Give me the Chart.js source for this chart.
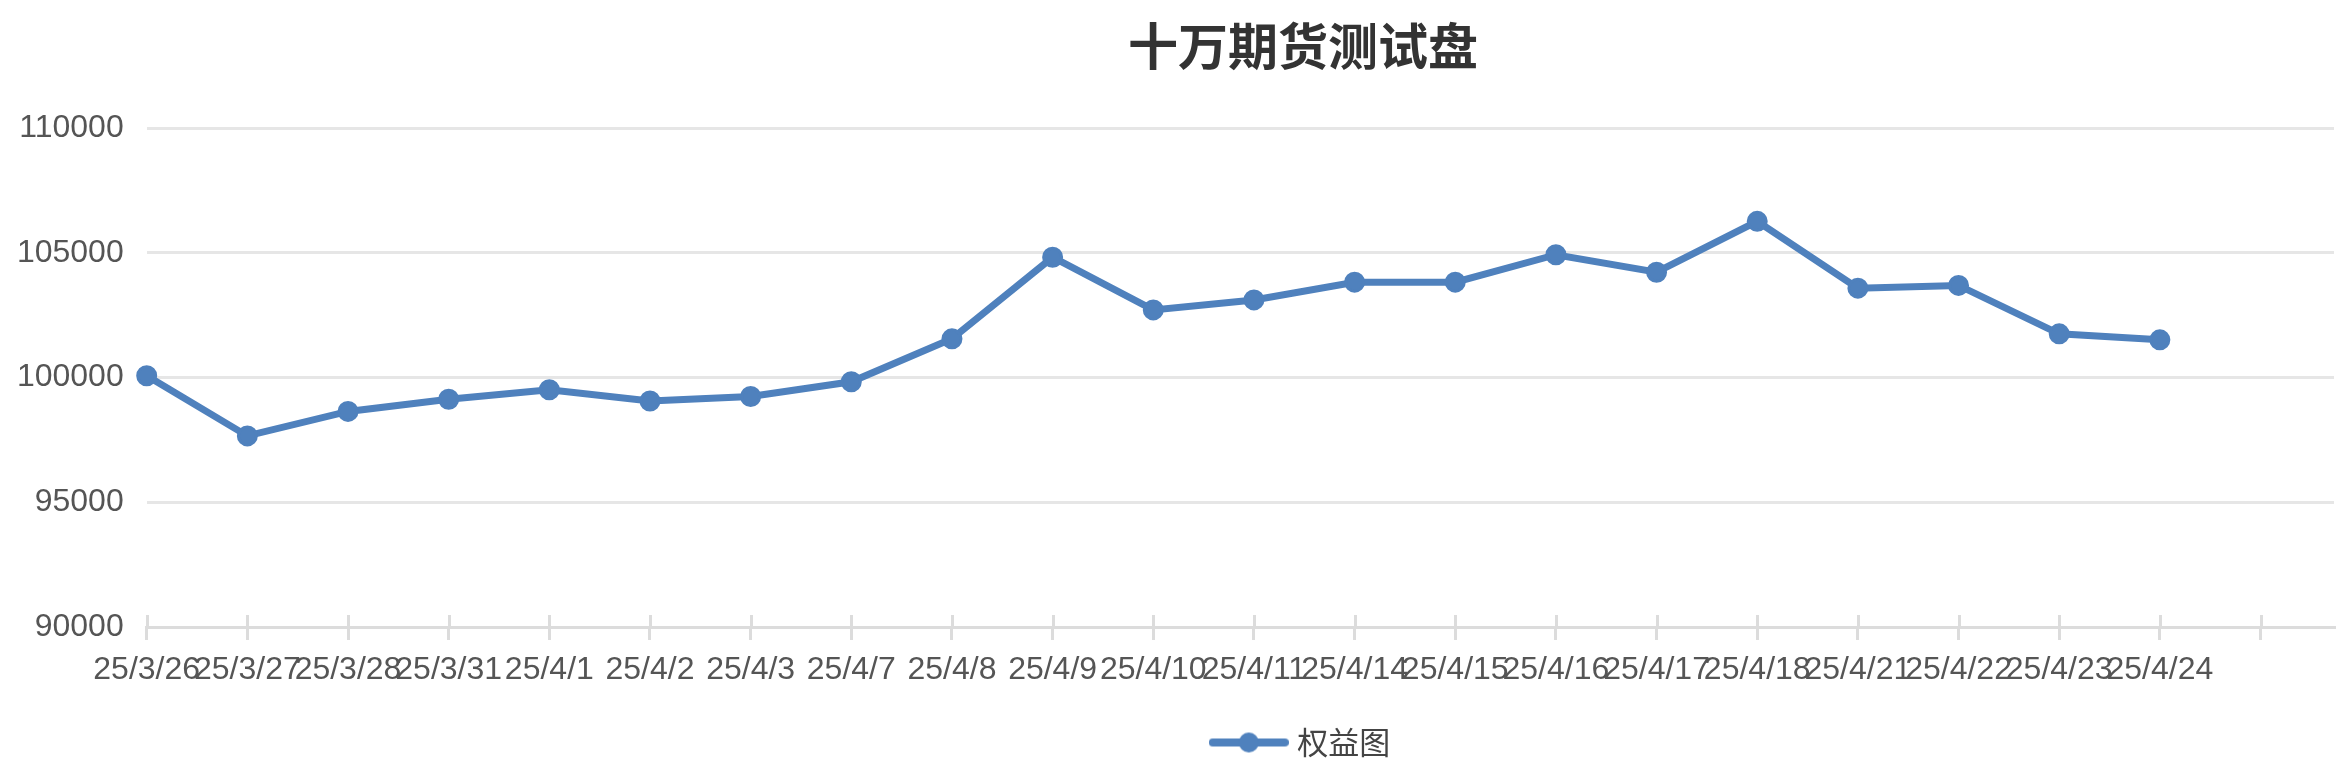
<!DOCTYPE html>
<html><head><meta charset="utf-8">
<script src="https://cdn.jsdelivr.net/npm/chart.js@4.4.1/dist/chart.umd.min.js"></script>
<style>html,body{margin:0;padding:0;background:#fff}#wrap{width:2346px;height:782px;position:relative}</style>
</head><body><div id="wrap"><canvas id="c"></canvas></div>
<script>
const chartTitle = '十万期货测试盘';
const seriesName = '权益图';
const dateLabels = ['25/3/26','25/3/27','25/3/28','25/3/31','25/4/1','25/4/2','25/4/3','25/4/7','25/4/8','25/4/9','25/4/10','25/4/11','25/4/14','25/4/15','25/4/16','25/4/17','25/4/18','25/4/21','25/4/22','25/4/23','25/4/24'];
const equity = [100070, 97660, 98640, 99130, 99510, 99060, 99240, 99830, 101550, 104820, 102710, 103110, 103820, 103820, 104920, 104220, 106260, 103580, 103690, 101750, 101510];
const yTicks = [90000, 95000, 100000, 105000, 110000];

const lineColor = '#4F81BD';

// legend icon: line with a circle
const icon = document.createElement('canvas');
icon.width = 80; icon.height = 24;
(function(){
  const g = icon.getContext('2d');
  g.strokeStyle = lineColor; g.lineWidth = 8; g.lineCap = 'round';
  g.beginPath(); g.moveTo(4, 12); g.lineTo(76, 12); g.stroke();
  g.fillStyle = lineColor; g.beginPath(); g.arc(40, 12, 10, 0, Math.PI*2); g.fill();
})();

const shiftCenter = {
  id: 'shiftCenter',
  afterLayout(chart) {
    const d = 130;
    if (chart.titleBlock) { chart.titleBlock.left += d; chart.titleBlock.right += d; }
    if (chart.legend) { chart.legend.left += d; chart.legend.right += d; }
  }
};
const tickCross = {
  id: 'tickCross',
  beforeDatasetsDraw(chart) {
    const s = chart.scales.x, a = chart.chartArea, ctx = chart.ctx;
    ctx.save();
    ctx.strokeStyle = '#dcdcdc'; ctx.lineWidth = 3;
    s.ticks.forEach(t => {
      const px = Math.round(s.getPixelForValue(t.value)) + 0.5;
      ctx.beginPath(); ctx.moveTo(px, a.bottom - 12); ctx.lineTo(px, a.bottom); ctx.stroke();
    });
    ctx.restore();
  }
};

new Chart(document.getElementById('c'), {
  type: 'line',
  data: {
    datasets: [{
      label: seriesName,
      data: equity.map((v, i) => ({x: i, y: v})),
      borderColor: lineColor,
      backgroundColor: lineColor,
      borderWidth: 7,
      pointRadius: 9,
      pointBorderWidth: 3,
      pointBackgroundColor: lineColor,
      pointBorderColor: lineColor,
      tension: 0,
      clip: false
    }]
  },
  options: {
    responsive: true,
    maintainAspectRatio: false,
    animation: false,
    layout: { padding: { top: 0, left: 0, right: 0, bottom: 14 } },
    plugins: {
      title: {
        display: true,
        text: chartTitle,
        color: '#333',
        font: { family: '"Noto Sans CJK SC", sans-serif', size: 50, weight: 'bold' },
        padding: { top: 16, bottom: 52 }
      },
      legend: {
        display: true,
        position: 'bottom',
        labels: {
          usePointStyle: true,
          pointStyle: icon,
          pointStyleWidth: 66,
          boxHeight: 31,
          color: '#444',
          padding: 10,
          font: { family: '"Noto Sans CJK SC", sans-serif', size: 31 }
        }
      },
      tooltip: { enabled: false }
    },
    scales: {
      x: {
        type: 'linear',
        bounds: 'data',
        min: 0,
        max: 21.73,
        afterFit(s) { s.height = 90; },
        grid: { display: true, drawOnChartArea: false, drawTicks: true, tickLength: 13, color: '#dcdcdc', lineWidth: 3 },
        border: { display: true, color: '#dcdcdc', width: 3 },
        ticks: {
          stepSize: 1,
          includeBounds: false,
          autoSkip: false,
          maxTicksLimit: 100,
          maxRotation: 0,
          minRotation: 0,
          padding: 11,
          color: '#555',
          font: { family: '"Liberation Sans", Arial, sans-serif', size: 32 },
          callback: (v) => (dateLabels[v] !== undefined ? dateLabels[v] : '')
        }
      },
      y: {
        min: yTicks[0],
        max: yTicks[yTicks.length - 1],
        afterFit(s) { s.width = 146.7; },
        grid: { color: '#e6e6e6', lineWidth: 3, drawTicks: false },
        border: { display: false },
        ticks: {
          stepSize: yTicks[1] - yTicks[0],
          padding: 23,
          color: '#555',
          font: { family: '"Liberation Sans", Arial, sans-serif', size: 32 },
          callback: (v) => String(v)
        }
      }
    }
  },
  plugins: [shiftCenter, tickCross]
});
</script>
</body></html>
